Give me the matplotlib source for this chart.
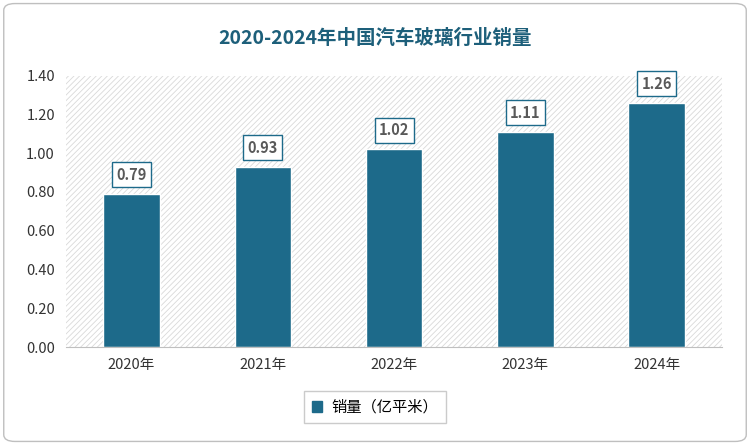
import matplotlib
matplotlib.use("Agg")
import matplotlib.pyplot as plt
from matplotlib.patches import FancyBboxPatch, Rectangle

plt.rcParams['font.family'] = 'sans-serif'
plt.rcParams['font.sans-serif'] = ['Noto Sans CJK SC', 'Noto Sans CJK JP', 'Noto Sans CJK TC', 'DejaVu Sans']
plt.rcParams['hatch.color'] = '#d9d9d9'
plt.rcParams['hatch.linewidth'] = 0.6

categories = ["2020年", "2021年", "2022年", "2023年", "2024年"]
values = [0.79, 0.93, 1.02, 1.11, 1.26]
yticks = [0.0, 0.2, 0.4, 0.6, 0.8, 1.0, 1.2, 1.4]
title = "2020-2024年中国汽车玻璃行业销量"
series_name = "销量（亿平米）"
color = "#1d6a8a"

fig = plt.figure(figsize=(7.5, 4.45), dpi=100)
fig.patches.append(FancyBboxPatch((0.005, 0.008), 0.99, 0.984, boxstyle="round,pad=0,rounding_size=0.015",
                                  transform=fig.transFigure, fill=False, edgecolor="#bfbfbf", lw=1))
ax = fig.add_axes([0.088, 0.22, 0.875, 0.61])
ax.add_patch(Rectangle((0, 0), 1, 1, transform=ax.transAxes, facecolor="white",
                       hatch="//////", edgecolor="#d9d9d9", lw=0, zorder=0))
x = range(len(categories))
ax.bar(x, values, width=0.43, color=color, edgecolor="white", lw=1, zorder=2)
for i, v in zip(x, values):
    ax.annotate(f"{v:.2f}", (i, v), xytext=(0, 8), textcoords="offset points", ha="center", va="bottom",
                fontsize=10.5, fontweight="bold", color="#595959",
                bbox=dict(boxstyle="square,pad=0.3", fc="white", ec=color, lw=1))
ax.set_xlim(-0.5, len(categories) - 0.5)
ax.set_ylim(0, 1.4)
ax.set_yticks(yticks)
ax.set_yticklabels([f"{t:.2f}" for t in yticks], fontsize=10.5, color="#333333")
ax.set_xticks(list(x))
ax.set_xticklabels(categories, fontsize=10.5, color="#333333")
ax.tick_params(length=0, pad=8)
for s in ["top", "right", "left"]:
    ax.spines[s].set_visible(False)
ax.spines["bottom"].set_color("#bfbfbf")
fig.text(0.5, 0.915, title, ha="center", va="center", fontsize=14, fontweight="bold",
         color="#1d5f7a")
leg = fig.legend([Rectangle((0, 0), 1, 1, color=color)], [series_name], loc="center",
                 bbox_to_anchor=(0.5, 0.085), fontsize=11, frameon=True, fancybox=False,
                 edgecolor="#bfbfbf", handlelength=0.7, handleheight=0.7, borderpad=0.5,
                 borderaxespad=0, handletextpad=0.6)
leg.get_frame().set_linewidth(1)
fig.savefig("out.png", dpi=100)
